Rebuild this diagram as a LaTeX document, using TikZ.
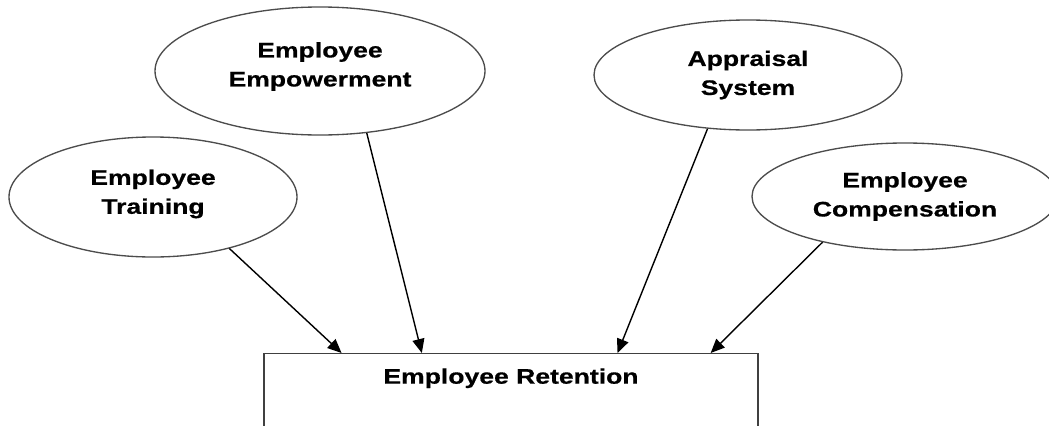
\documentclass[tikz,border=0pt]{standalone}
\usepackage{fontspec}
\newfontfamily\labfont[FakeStretch=1.26,FakeBold=0.6]{Liberation Sans}
\usetikzlibrary{shapes.geometric,arrows.meta,calc}
\tikzset{
  lab/.style={font={\labfont\bfseries\fontsize{15.8pt}{21.75pt}\selectfont}, align=center, text=black},
  oval/.style={lab, ellipse, draw=black!70, line width=1pt, inner sep=0pt},
  retbox/.style={lab, rectangle, draw=black!75, line width=1.1pt, minimum width=370.5pt, inner xsep=0pt, inner ysep=11pt, text depth=80pt},
  arr/.style={line width=1.05pt, black, -{Triangle[length=10.5pt,width=9pt]}}
}
\begin{document}
\begin{tikzpicture}[x=0.75pt,y=-0.75pt]
\useasboundingbox (0,0) rectangle (1049,425);
\clip (0,0) rectangle (1049,425);
\fill[white] (0,0) rectangle (1049,425);
\node[oval, minimum width=216pt, minimum height=90pt, text depth=8pt] (train) at (153,197) {Employee\\Training};
\node[oval, minimum width=247.5pt, minimum height=96pt, text depth=10pt] (empow) at (320,71) {Employee\\Empowerment};
\node[oval, minimum width=231pt, minimum height=82.5pt] (apprais) at (748,75) {Appraisal\\System};
\node[oval, minimum width=229.5pt, minimum height=80.25pt] (comp) at (905,196.5) {Employee\\Compensation};
\node[retbox, anchor=north] (ret) at (511,353) {Employee Retention};
\coordinate (e1) at ($(ret.north west)!0.158!(ret.north east)$);
\coordinate (e2) at ($(ret.north west)!0.320!(ret.north east)$);
\coordinate (e3) at ($(ret.north west)!0.715!(ret.north east)$);
\coordinate (e4) at ($(ret.north west)!0.903!(ret.north east)$);
\draw[arr] (train.-34) -- (e1);
\draw[arr] (empow.-53) -- (e2);
\draw[arr] (apprais.-127) -- (e3);
\draw[arr] (comp.-151) -- (e4);
\end{tikzpicture}
\end{document}
